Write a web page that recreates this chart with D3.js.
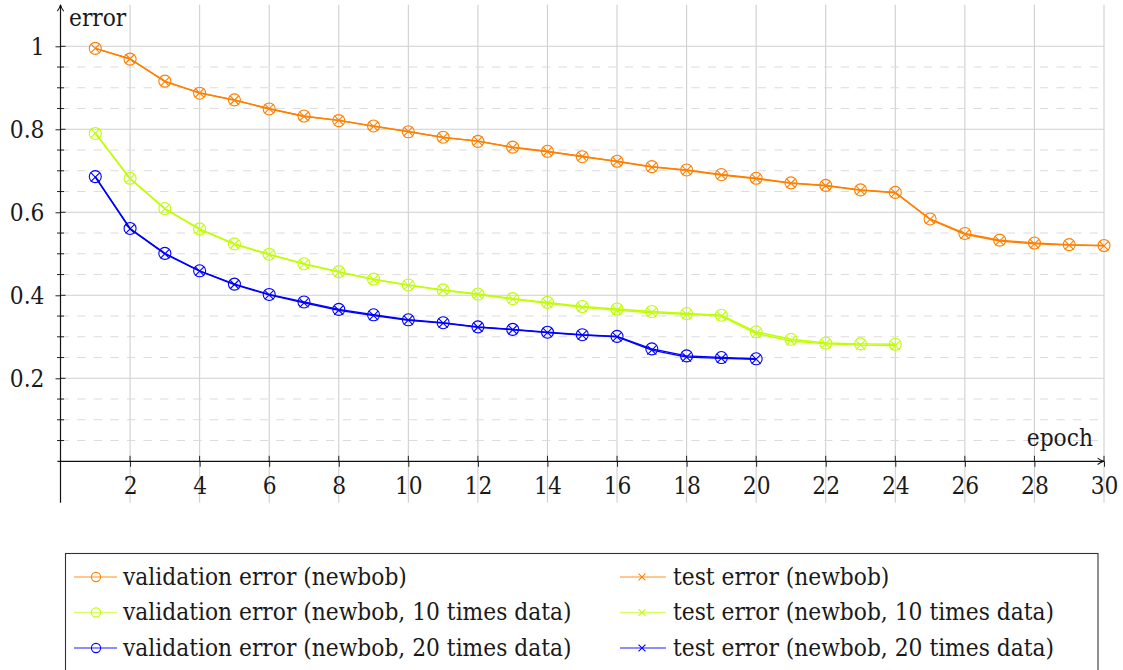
<!DOCTYPE html>
<html><head><meta charset="utf-8">
<script src="https://cdn.jsdelivr.net/npm/d3@7"></script>
<style>
body{margin:0;background:#fff;overflow:hidden}
text{font-family:"DejaVu Serif Condensed","DejaVu Serif","Liberation Serif","Noto Serif",serif;font-stretch:semi-condensed;fill:#1a1a1a}
</style>
</head><body>
<svg id="chart" width="1123" height="670"></svg>
<script>
// ---- data ----
const epochsNewbob = [1,2,3,4,5,6,7,8,9,10,11,12,13,14,15,16,17,18,19,20,21,22,23,24,25,26,27,28,29,30];
const valNewbob  = [0.995,0.969,0.916,0.887,0.871,0.849,0.832,0.821,0.808,0.794,0.781,0.771,0.757,0.747,0.734,0.723,0.710,0.702,0.691,0.682,0.671,0.665,0.654,0.648,0.584,0.549,0.533,0.526,0.522,0.520];
const testNewbob = [0.995,0.970,0.915,0.888,0.870,0.850,0.831,0.822,0.807,0.795,0.780,0.772,0.756,0.746,0.735,0.722,0.709,0.701,0.690,0.681,0.670,0.664,0.653,0.647,0.583,0.547,0.531,0.524,0.521,0.519];
const epochs10 = [1,2,3,4,5,6,7,8,9,10,11,12,13,14,15,16,17,18,19,20,21,22,23,24];
const val10  = [0.790,0.682,0.609,0.560,0.524,0.499,0.476,0.457,0.439,0.425,0.413,0.403,0.392,0.383,0.373,0.367,0.361,0.356,0.352,0.312,0.294,0.285,0.283,0.282];
const test10 = [0.791,0.681,0.608,0.559,0.523,0.498,0.475,0.456,0.438,0.424,0.412,0.402,0.391,0.381,0.371,0.364,0.358,0.354,0.350,0.308,0.290,0.283,0.280,0.279];
const epochs20 = [1,2,3,4,5,6,7,8,9,10,11,12,13,14,15,16,17,18,19,20];
const val20  = [0.686,0.561,0.501,0.459,0.427,0.402,0.384,0.366,0.353,0.341,0.334,0.324,0.318,0.311,0.305,0.301,0.271,0.254,0.250,0.247];
const test20 = [0.685,0.560,0.500,0.458,0.426,0.401,0.382,0.364,0.351,0.340,0.333,0.323,0.317,0.310,0.304,0.300,0.268,0.251,0.248,0.246];

const xTicks = [2,4,6,8,10,12,14,16,18,20,22,24,26,28,30];
const yTicks = [0.2,0.4,0.6,0.8,1];
const yMinorTicks = [0.05,0.1,0.15,0.25,0.3,0.35,0.45,0.5,0.55,0.65,0.7,0.75,0.85,0.9,0.95];
const xLabel = "epoch";
const yLabel = "error";

const seriesNames = [
  "validation error (newbob)", "test error (newbob)",
  "validation error (newbob, 10 times data)", "test error (newbob, 10 times data)",
  "validation error (newbob, 20 times data)", "test error (newbob, 20 times data)"
];
const seriesColors = ["#ff8000","#ff8000","#bfff00","#bfff00","#0000ff","#0000ff"];
const seriesMarks = ["o","x","o","x","o","x"];

const series = [
  {x: epochsNewbob, y: valNewbob},
  {x: epochsNewbob, y: testNewbob},
  {x: epochs10, y: val10},
  {x: epochs10, y: test10},
  {x: epochs20, y: val20},
  {x: epochs20, y: test20}
].map((s,i)=>({...s, name: seriesNames[i], color: seriesColors[i], mark: seriesMarks[i]}));

// ---- layout ----
const svg = d3.select("#chart");
// fit font size so that the first legend label has the reference width (~284px)
const probe = svg.append("text").attr("font-size",26).text(seriesNames[0]);
const pw = probe.node().getComputedTextLength();
probe.remove();
const FS = Math.min(25, Math.max(18, 26*284/pw));

const x = d3.scaleLinear().domain([0,30]).range([60.5,1104]);
const y = d3.scaleLinear().domain([0,1]).range([461.3,46.3]);
const yTop = 1.1, yBottom = -0.1;

const defs = svg.append("defs");
defs.append("marker").attr("id","arrow").attr("viewBox","0 0 10 10")
  .attr("refX",9).attr("refY",5).attr("markerWidth",8).attr("markerHeight",8)
  .attr("markerUnits","userSpaceOnUse").attr("orient","auto")
  .append("path").attr("d","M1,1 Q5,4 9,5 Q5,6 1,9").attr("fill","none")
  .attr("stroke","#111").attr("stroke-width",1.3);

// grid
const grid = svg.append("g");
grid.selectAll(".vg").data(xTicks).join("line")
  .attr("x1",d=>x(d)).attr("x2",d=>x(d)).attr("y1",y(yTop)).attr("y2",y(yBottom))
  .attr("stroke","#cfcfcf").attr("stroke-width",1.1);
grid.selectAll(".mg").data(yMinorTicks).join("line")
  .attr("x1",x(0)).attr("x2",x(30)).attr("y1",d=>y(d)).attr("y2",d=>y(d))
  .attr("stroke","#dcdcdc").attr("stroke-width",1.1).attr("stroke-dasharray","8.3,8.3");
grid.selectAll(".hg").data(yTicks).join("line")
  .attr("x1",x(0)).attr("x2",x(30)).attr("y1",d=>y(d)).attr("y2",d=>y(d))
  .attr("stroke","#cfcfcf").attr("stroke-width",1.1);

// axes (labels and outer ticks via d3 axes)
const yAxis = d3.axisLeft(y).tickValues(yTicks).tickSize(5).tickPadding(11).tickFormat(d=>d===1?"1":d3.format(".1f")(d));
const gy = svg.append("g").attr("transform",`translate(${x(0)},0)`).call(yAxis);
gy.attr("font-family",null);
gy.select(".domain").remove();
gy.selectAll("line").attr("stroke","#222");
gy.selectAll("text").attr("font-size",FS).attr("fill","#1a1a1a");

const xAxis = d3.axisBottom(x).tickValues(xTicks).tickSize(5.5).tickPadding(9.5);
const gx = svg.append("g").attr("transform",`translate(0,${y(0)})`).call(xAxis);
gx.attr("font-family",null);
gx.select(".domain").remove();
gx.selectAll("line").attr("stroke","#222");
gx.selectAll("text").attr("font-size",FS).attr("fill","#1a1a1a");

// inner tick stubs + minor ticks
const ticks = svg.append("g").attr("stroke","#222").attr("stroke-width",1);
ticks.selectAll(".yt").data(yTicks).join("line")
  .attr("x1",x(0)).attr("x2",x(0)+5).attr("y1",d=>y(d)).attr("y2",d=>y(d));
ticks.selectAll(".ymt").data(yMinorTicks).join("line")
  .attr("x1",x(0)-3.5).attr("x2",x(0)+3.5).attr("y1",d=>y(d)).attr("y2",d=>y(d));
ticks.selectAll(".xt").data(xTicks).join("line")
  .attr("x1",d=>x(d)).attr("x2",d=>x(d)).attr("y1",y(0)-5.5).attr("y2",y(0));

// axis lines with arrows
svg.append("line").attr("x1",x(0)).attr("x2",x(0)).attr("y1",y(yBottom)).attr("y2",y(yTop))
  .attr("stroke","#111").attr("stroke-width",1.2).attr("marker-end","url(#arrow)");
svg.append("line").attr("x1",x(0)-3).attr("x2",x(30)).attr("y1",y(0)).attr("y2",y(0))
  .attr("stroke","#111").attr("stroke-width",1.2).attr("marker-end","url(#arrow)");

svg.append("text").attr("x",69).attr("y",26).attr("font-size",FS).text(yLabel);
svg.append("text").attr("x",1093).attr("y",446).attr("text-anchor","end").attr("font-size",FS).text(xLabel);

// series
const line = d3.line().x(d=>x(d[0])).y(d=>y(d[1]));
const plot = svg.append("g");
function drawMark(g, cx, cy, mark, color, r){
  if(mark==="o"){
    g.append("circle").attr("cx",cx).attr("cy",cy).attr("r",r).attr("fill","none")
      .attr("stroke",color).attr("stroke-width",1.1);
  } else {
    const h = r*0.75;
    g.append("path").attr("d",`M${cx-h},${cy-h}L${cx+h},${cy+h}M${cx-h},${cy+h}L${cx+h},${cy-h}`)
      .attr("stroke",color).attr("stroke-width",1.1).attr("fill","none");
  }
}
series.forEach(s=>{
  const pts = s.x.map((v,i)=>[v,s.y[i]]);
  plot.append("path").datum(pts).attr("d",line).attr("fill","none")
    .attr("stroke",s.color).attr("stroke-width",1.4);
  const mg = plot.append("g");
  pts.forEach(p=>drawMark(mg, x(p[0]), y(p[1]), s.mark, s.color, 6));
});

// legend
const lg = svg.append("g");
lg.append("rect").attr("x",65.5).attr("y",553.5).attr("width",1032.5).attr("height",125)
  .attr("fill","#fff").attr("stroke","#333").attr("stroke-width",1.1);
const rowY = [577,612.5,648];
const cols = [{l1:74,l2:117,m:96,t:123},{l1:620,l2:666,m:642,t:673}];
series.forEach((s,i)=>{
  const c = cols[i%2], ry = rowY[Math.floor(i/2)];
  lg.append("line").attr("x1",c.l1).attr("x2",c.l2).attr("y1",ry).attr("y2",ry)
    .attr("stroke",s.color).attr("stroke-width",1.6).attr("stroke-opacity",0.6);
  drawMark(lg, c.m, ry, s.mark, s.color, 4.6);
  lg.append("text").attr("x",c.t).attr("y",ry+7.5).attr("font-size",FS).text(s.name);
});
</script>
</body></html>
